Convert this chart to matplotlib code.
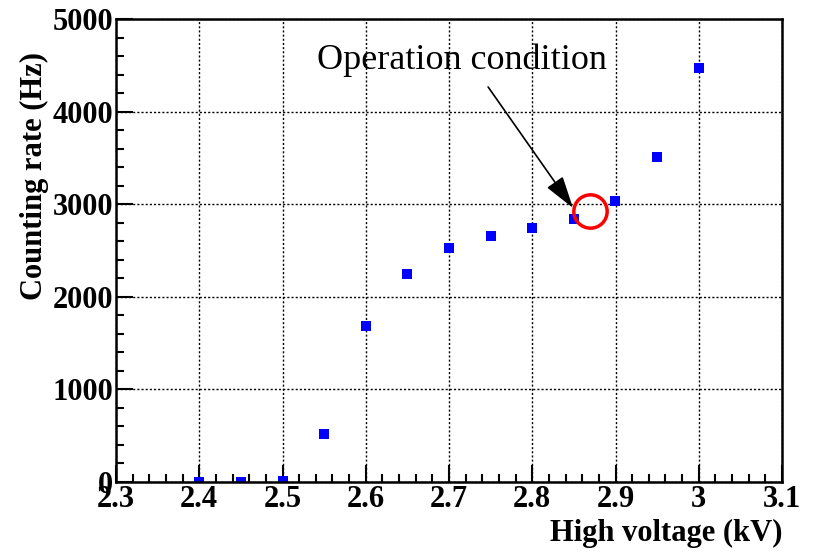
import numpy as np
import matplotlib.pyplot as plt
from matplotlib.ticker import MultipleLocator

# counting rate vs. high voltage scan
voltage = [2.40, 2.45, 2.50, 2.55, 2.60, 2.65, 2.70, 2.75, 2.80, 2.85, 2.90, 2.95, 3.00]
rate = [5, 0, 10, 518, 1685, 2246, 2527, 2657, 2743, 2845, 3035, 3510, 4471]

# chosen working point
op_voltage = 2.869
op_rate = 2926

plt.rcParams['font.family'] = ['Liberation Serif', 'DejaVu Serif']

fig = plt.figure(figsize=(8.13, 5.56), dpi=100)
ax = fig.add_axes([116/813, 1 - 482/556, (782-116)/813, (482-19)/556])

ax.plot(voltage, rate, 's', color='#0000ff', markersize=6.5, markeredgewidth=0)

# operation condition marker
ax.plot([op_voltage], [op_rate], 'o', markersize=24, markerfacecolor='none',
        markeredgecolor='red', markeredgewidth=2.5)
ax.text(2.716, 4550, 'Operation condition', ha='center', va='center', fontsize=26)
ax.annotate('', xy=(2.849, 2959), xytext=(2.747, 4266),
            arrowprops=dict(arrowstyle='-|>,head_length=1.0,head_width=0.3',
                            color='black', lw=1.2, mutation_scale=20,
                            shrinkA=0, shrinkB=0))

ax.set_xlim(2.3, 3.1)
ax.set_ylim(0, 5000)
ax.xaxis.set_major_locator(MultipleLocator(0.1))
ax.xaxis.set_minor_locator(MultipleLocator(0.02))
ax.yaxis.set_major_locator(MultipleLocator(1000))
ax.yaxis.set_minor_locator(MultipleLocator(200))
ax.set_xticks(np.arange(2.3, 3.11, 0.1))
ax.set_xticklabels(['2.3', '2.4', '2.5', '2.6', '2.7', '2.8', '2.9', '3', '3.1'])

ax.tick_params(which='both', direction='in', top=False, right=False)
ax.tick_params(which='major', length=12, width=1.5, labelsize=22, pad=2)
ax.tick_params(which='minor', length=6, width=1.5)
for lab in ax.get_xticklabels() + ax.get_yticklabels():
    lab.set_fontweight('bold')

for s in ax.spines.values():
    s.set_linewidth(1.8)

ax.grid(True, which='major', linestyle=(0, (1.5, 1.5)), color='black', linewidth=1.0)

ax.set_xlabel('High voltage (kV)', fontsize=22, fontweight='bold', loc='right', labelpad=4)
ax.set_ylabel('Counting rate (Hz)', fontsize=22, fontweight='bold')
ax.yaxis.set_label_coords(-0.10, 0.66)

fig.savefig('out.png', dpi=100)
